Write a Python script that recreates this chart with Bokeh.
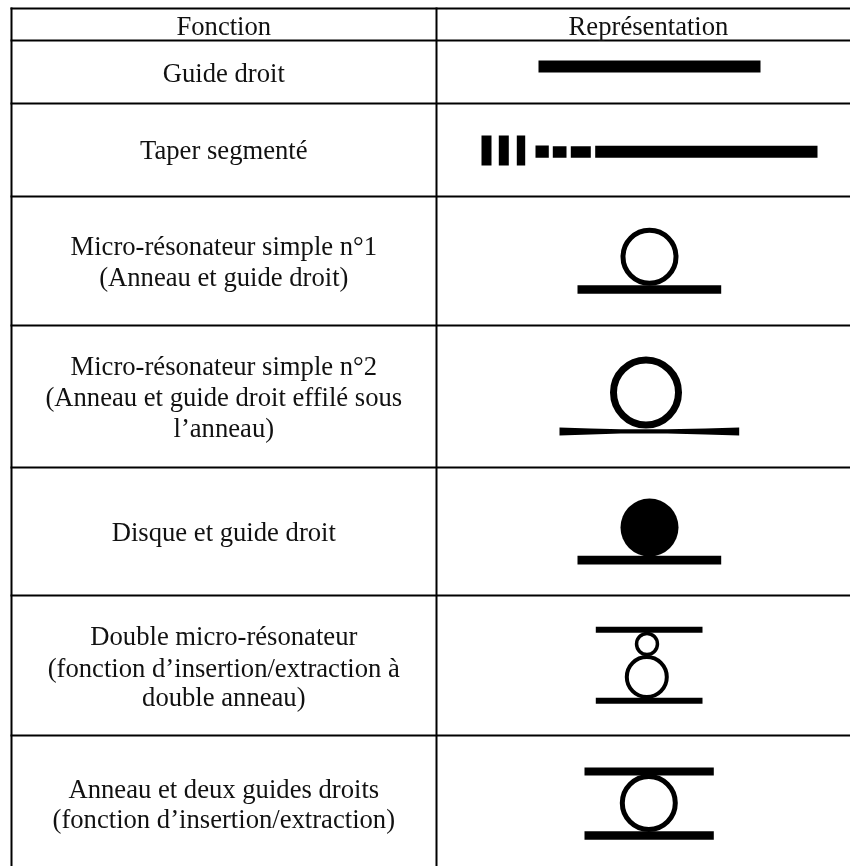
from bokeh.plotting import figure
from bokeh.embed import file_html
from bokeh.resources import INLINE
from bokeh.core.properties import value
from bokeh.models import Range1d

FONT = "Liberation Serif"
FONT_PX = "26.65px"
TEXT_SHIFT = -9

# table rules
row_rules = [8, 40, 103, 196, 325, 467, 595, 735]
col_rules = [11, 436]
page_right = 850
page_bottom = 866

# left and right column text (centre x, baseline y, text)
left_centre = 223.3
left_baselines = [34, 81, 158.7, 254.3, 285, 374, 405.7, 436, 540, 644, 676, 705.7, 797.3, 827.3]
left_lines = [
    "Fonction",
    "Guide droit",
    "Taper segmenté",
    "Micro-résonateur simple n°1",
    "(Anneau et guide droit)",
    "Micro-résonateur simple n°2",
    "(Anneau et guide droit effilé sous",
    "l’anneau)",
    "Disque et guide droit",
    "Double micro-résonateur",
    "(fonction d’insertion/extraction à",
    "double anneau)",
    "Anneau et deux guides droits",
    "(fonction d’insertion/extraction)",
]
right_centre = 648
right_baselines = [34]
right_lines = ["Représentation"]

# waveguide bars
bar_left = [538, 481, 498.3, 516.3, 535, 552.3, 570.3, 594.7, 577, 577, 595.3, 595.3, 584, 584]
bar_right = [760, 491, 508.3, 524.7, 548.3, 566, 590.3, 817, 720.7, 720.7, 702, 702, 713.3, 713.3]
bar_top = [60, 135, 135, 135, 145, 145.7, 145.7, 145.3, 284.7, 555.3, 626.3, 697.3, 767, 830.7]
bar_bottom = [72, 165, 165, 165, 157.3, 157.3, 157.3, 157.3, 293.3, 564, 632.3, 703.3, 775, 839.3]

# tapered guide under ring n°2
taper_x = [559, 590, 620, 667, 705, 738.7, 738.7, 705, 667, 620, 590, 559]
taper_y = [427, 428, 428.7, 428.7, 428, 427, 435, 434, 433, 433, 434, 435]

# rings: centre, outer radius, stroke
ring_x = [649, 645.5, 646.5, 646.3, 648.3]
ring_y = [256.3, 392, 643.5, 676.5, 802.5]
ring_outer = [29, 36, 12.2, 22, 29]
ring_stroke = [5, 7, 3.5, 4, 5]

# disc
disc_x = [649]
disc_y = [527]
disc_r = [29]

p = figure(width=850, height=866, toolbar_location=None, output_backend="svg",
           x_range=Range1d(0, 850), y_range=Range1d(866, 0),
           x_axis_location=None, y_axis_location=None, min_border=0,
           background_fill_color="white", border_fill_color="white",
           outline_line_color=None)
p.styles = {"position": "fixed", "left": "0", "top": "0"}
p.grid.visible = False

n = len(row_rules)
p.segment(x0=[col_rules[0] - 1] * n, x1=[page_right] * n, y0=row_rules, y1=row_rules,
          line_color="black", line_width=2)
p.segment(x0=col_rules, x1=col_rules, y0=[row_rules[0] - 1] * 2, y1=[page_bottom] * 2,
          line_color="black", line_width=2)

p.quad(left=bar_left, right=bar_right, top=bar_top, bottom=bar_bottom,
       fill_color="black", line_color=None)
p.patch(taper_x, taper_y, fill_color="black", line_color=None)
p.circle(x=ring_x, y=ring_y,
         radius=[o - s / 2 for o, s in zip(ring_outer, ring_stroke)],
         fill_color=None, line_color="black",
         line_width=ring_stroke)
p.circle(x=disc_x, y=disc_y, radius=disc_r, fill_color="black", line_color=None)

p.text(x=[left_centre] * len(left_lines), y=left_baselines, text=left_lines,
       text_font=value(FONT), text_font_size=value(FONT_PX), text_color="#111111",
       text_align="center", text_baseline="alphabetic", y_offset=TEXT_SHIFT)
p.text(x=[right_centre] * len(right_lines), y=right_baselines, text=right_lines,
       text_font=value(FONT), text_font_size=value(FONT_PX), text_color="#111111",
       text_align="center", text_baseline="alphabetic", y_offset=TEXT_SHIFT)

open("out.html", "w").write(file_html(p, INLINE))
